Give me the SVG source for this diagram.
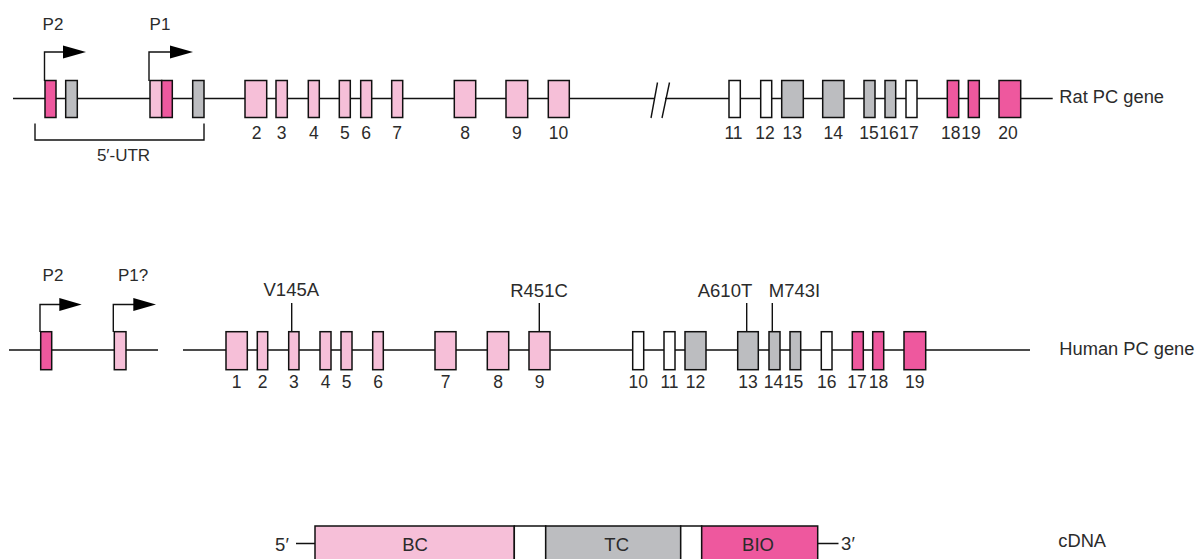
<svg xmlns="http://www.w3.org/2000/svg" width="1201" height="559" viewBox="0 0 1201 559">
<style>
text{font-family:"Liberation Sans",Arial,sans-serif;fill:#2b2b2b}
.n{font-size:17.5px;text-anchor:middle}
.p{font-size:17px;text-anchor:middle}
.m{font-size:18.5px;text-anchor:middle}
.g{font-size:18.3px}
.c{font-size:18.5px;text-anchor:middle}
.ln{stroke:#111;stroke-width:1.4;fill:none}
.ex{stroke:#111;stroke-width:1.5}
.lp{fill:#f6bfd8}
.mg{fill:#ee589e}
.gr{fill:#bcbdc0}
.wh{fill:#ffffff}
.ah{fill:#000}
</style>

<g id="connectors">
  <path class="ln" d="M13 98.5H655M665 98.5H1052.7"/>
  <path class="ln" d="M657.5 82.5L651 118M669.5 82.5L662 118"/>
  <path class="ln" d="M9 350H158M183 350H1030"/>
  <path class="ln" d="M296 543.5H315M818 543.5H838.5"/>
  <path class="ln" d="M44.5 81V52H64"/>
  <polygon class="ah" points="63,45.5 86,52 63,58.5"/>
  <path class="ln" d="M149 81V52H171"/>
  <polygon class="ah" points="170,45.5 193,52 170,58.5"/>
  <path class="ln" d="M40 332V304.5H60"/>
  <polygon class="ah" points="59.3,298 81.7,304.5 59.3,311"/>
  <path class="ln" d="M113.3 332V304.5H134"/>
  <polygon class="ah" points="133.3,298 156,304.5 133.3,311"/>
  <path class="ln" d="M35 123.5V140H204V123.5"/>
  <path class="ln" d="M291.7 303V332M539.3 303V332M746.7 303V332M772.3 303V332"/>
</g>

<g id="rat-gene">
  <g id="rat-p2"><text class="p" x="53" y="30">P2</text></g>
  <g id="rat-p1"><text class="p" x="160" y="30">P1</text></g>
  <g id="rat-e-p2"><rect class="ex mg" x="45" y="80.5" width="11" height="37"/></g>
  <g id="rat-e-u1"><rect class="ex gr" x="65.7" y="80.5" width="11.6" height="37"/></g>
  <g id="rat-e-p1a"><rect class="ex lp" x="150" y="80.5" width="11.7" height="37"/></g>
  <g id="rat-e-p1b"><rect class="ex mg" x="161.7" y="80.5" width="10.6" height="37"/></g>
  <g id="rat-e-u2"><rect class="ex gr" x="192.7" y="80.5" width="11.3" height="37"/></g>
  <g id="rat-e2"><rect class="ex lp" x="245" y="80.5" width="21.7" height="37"/><text class="n" x="256.5" y="139.3">2</text></g>
  <g id="rat-e3"><rect class="ex lp" x="276" y="80.5" width="11.3" height="37"/><text class="n" x="281.7" y="139.3">3</text></g>
  <g id="rat-e4"><rect class="ex lp" x="308.3" y="80.5" width="11" height="37"/><text class="n" x="313.8" y="139.3">4</text></g>
  <g id="rat-e5"><rect class="ex lp" x="339.3" y="80.5" width="11" height="37"/><text class="n" x="344.8" y="139.3">5</text></g>
  <g id="rat-e6"><rect class="ex lp" x="360.7" y="80.5" width="11" height="37"/><text class="n" x="366.2" y="139.3">6</text></g>
  <g id="rat-e7"><rect class="ex lp" x="391.7" y="80.5" width="11" height="37"/><text class="n" x="397.2" y="139.3">7</text></g>
  <g id="rat-e8"><rect class="ex lp" x="454.3" y="80.5" width="21.4" height="37"/><text class="n" x="465" y="139.3">8</text></g>
  <g id="rat-e9"><rect class="ex lp" x="506" y="80.5" width="21.7" height="37"/><text class="n" x="516.8" y="139.3">9</text></g>
  <g id="rat-e10"><rect class="ex lp" x="548.3" y="80.5" width="21" height="37"/><text class="n" x="558.5" y="139.3">10</text></g>
  <g id="rat-e11"><rect class="ex wh" x="729" y="80.5" width="11.3" height="37"/><text class="n" x="733.5" y="139.3">11</text></g>
  <g id="rat-e12"><rect class="ex wh" x="760.7" y="80.5" width="11" height="37"/><text class="n" x="765" y="139.3">12</text></g>
  <g id="rat-e13"><rect class="ex gr" x="781.7" y="80.5" width="21.6" height="37"/><text class="n" x="792.3" y="139.3">13</text></g>
  <g id="rat-e14"><rect class="ex gr" x="822.7" y="80.5" width="21.3" height="37"/><text class="n" x="833.3" y="139.3">14</text></g>
  <g id="rat-e15"><rect class="ex gr" x="864" y="80.5" width="11" height="37"/><text class="n" x="869" y="139.3">15</text></g>
  <g id="rat-e16"><rect class="ex gr" x="885" y="80.5" width="10.7" height="37"/><text class="n" x="889" y="139.3">16</text></g>
  <g id="rat-e17"><rect class="ex wh" x="906" y="80.5" width="11" height="37"/><text class="n" x="909" y="139.3">17</text></g>
  <g id="rat-e18"><rect class="ex mg" x="947.3" y="80.5" width="11.4" height="37"/><text class="n" x="950.7" y="139.3">18</text></g>
  <g id="rat-e19"><rect class="ex mg" x="968.3" y="80.5" width="11" height="37"/><text class="n" x="971" y="139.3">19</text></g>
  <g id="rat-e20"><rect class="ex mg" x="999" y="80.5" width="21.7" height="37"/><text class="n" x="1008" y="139.3">20</text></g>
  <g id="rat-utr"><text class="p" x="123.5" y="161">5′-UTR</text></g>
  <g id="rat-label"><text class="g" x="1059.3" y="103.3">Rat PC gene</text></g>
</g>

<g id="human-gene">
  <g id="hum-p2"><text class="p" x="53" y="280.7">P2</text></g>
  <g id="hum-p1"><text class="p" x="133" y="280.7">P1?</text></g>
  <g id="hum-e-p2"><rect class="ex mg" x="40.7" y="331.7" width="11" height="38"/></g>
  <g id="hum-e-p1"><rect class="ex lp" x="114.3" y="331.7" width="11.7" height="38"/></g>
  <g id="hum-e1"><rect class="ex lp" x="226" y="331.7" width="21.3" height="38"/><text class="n" x="236.7" y="388">1</text></g>
  <g id="hum-e2"><rect class="ex lp" x="257.3" y="331.7" width="10.4" height="38"/><text class="n" x="262.5" y="388">2</text></g>
  <g id="hum-e3"><rect class="ex lp" x="288.7" y="331.7" width="10.3" height="38"/><text class="n" x="293.8" y="388">3</text></g>
  <g id="hum-e4"><rect class="ex lp" x="320" y="331.7" width="11" height="38"/><text class="n" x="325.5" y="388">4</text></g>
  <g id="hum-e5"><rect class="ex lp" x="341" y="331.7" width="11" height="38"/><text class="n" x="346.5" y="388">5</text></g>
  <g id="hum-e6"><rect class="ex lp" x="372.7" y="331.7" width="10.6" height="38"/><text class="n" x="378" y="388">6</text></g>
  <g id="hum-e7"><rect class="ex lp" x="435" y="331.7" width="21" height="38"/><text class="n" x="445.5" y="388">7</text></g>
  <g id="hum-e8"><rect class="ex lp" x="487.3" y="331.7" width="21.4" height="38"/><text class="n" x="498" y="388">8</text></g>
  <g id="hum-e9"><rect class="ex lp" x="529" y="331.7" width="21" height="38"/><text class="n" x="539.5" y="388">9</text></g>
  <g id="hum-e10"><rect class="ex wh" x="632.7" y="331.7" width="11" height="38"/><text class="n" x="638.2" y="388">10</text></g>
  <g id="hum-e11"><rect class="ex wh" x="664" y="331.7" width="11" height="38"/><text class="n" x="669.5" y="388">11</text></g>
  <g id="hum-e12"><rect class="ex gr" x="685" y="331.7" width="21" height="38"/><text class="n" x="695.5" y="388">12</text></g>
  <g id="hum-e13"><rect class="ex gr" x="737.7" y="331.7" width="20.6" height="38"/><text class="n" x="748" y="388">13</text></g>
  <g id="hum-e14"><rect class="ex gr" x="769" y="331.7" width="11" height="38"/><text class="n" x="773.5" y="388">14</text></g>
  <g id="hum-e15"><rect class="ex gr" x="790" y="331.7" width="10.7" height="38"/><text class="n" x="793.5" y="388">15</text></g>
  <g id="hum-e16"><rect class="ex wh" x="821.3" y="331.7" width="10.7" height="38"/><text class="n" x="826.7" y="388">16</text></g>
  <g id="hum-e17"><rect class="ex mg" x="852.3" y="331.7" width="11" height="38"/><text class="n" x="857" y="388">17</text></g>
  <g id="hum-e18"><rect class="ex mg" x="872.7" y="331.7" width="11" height="38"/><text class="n" x="878.5" y="388">18</text></g>
  <g id="hum-e19"><rect class="ex mg" x="904" y="331.7" width="21.7" height="38"/><text class="n" x="914.8" y="388">19</text></g>
  <g id="mut-v145a"><text class="m" x="291.3" y="295.7">V145A</text></g>
  <g id="mut-r451c"><text class="m" x="539" y="296.7">R451C</text></g>
  <g id="mut-a610t"><text class="m" x="725" y="296.7">A610T</text></g>
  <g id="mut-m743i"><text class="m" x="794.5" y="296.7">M743I</text></g>
  <g id="hum-label"><text class="g" x="1059.3" y="355">Human PC gene</text></g>
</g>

<g id="cdna">
  <g id="cdna-5"><text class="c" x="282" y="551">5′</text></g>
  <g id="cdna-bc"><rect class="ex lp" x="315" y="526" width="199.3" height="36"/><text class="c" x="415" y="551">BC</text></g>
  <g id="cdna-gap1"><rect class="ex wh" x="514.3" y="526" width="31.4" height="36"/></g>
  <g id="cdna-tc"><rect class="ex gr" x="545.7" y="526" width="135" height="36"/><text class="c" x="616.7" y="551">TC</text></g>
  <g id="cdna-gap2"><rect class="ex wh" x="680.7" y="526" width="21" height="36"/></g>
  <g id="cdna-bio"><rect class="ex mg" x="701.7" y="526" width="116" height="36"/><text class="c" x="758" y="551">BIO</text></g>
  <g id="cdna-3"><text class="c" x="848" y="550">3′</text></g>
  <g id="cdna-label"><text class="g" x="1058.3" y="547.3">cDNA</text></g>
</g>
</svg>
